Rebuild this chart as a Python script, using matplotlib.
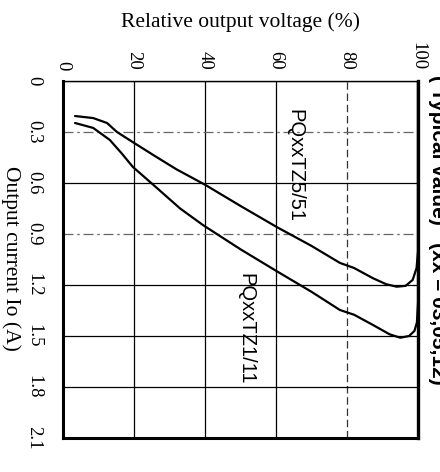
import matplotlib
matplotlib.use("Agg")
import matplotlib.pyplot as plt

# Data: relative output voltage (%) vs output current (A)
tz5_voltage = [3.4, 8.5, 12.4, 15.2, 19.7, 25.4, 32, 40, 50, 60.3, 70, 78, 82, 87.3, 91, 94, 96.5, 98.5, 99.6, 100, 100]
tz5_current = [0.206, 0.218, 0.247, 0.30, 0.36, 0.435, 0.52, 0.61, 0.735, 0.86, 0.97, 1.07, 1.10, 1.16, 1.195, 1.21, 1.205, 1.17, 1.10, 1.0, 0.0]

tz1_voltage = [3.4, 8.5, 13.2, 16.5, 19.7, 25.4, 33, 39.4, 50, 60.3, 70, 78, 82, 87.3, 92, 95, 97.5, 99, 99.7, 100, 100]
tz1_current = [0.247, 0.276, 0.347, 0.425, 0.506, 0.61, 0.75, 0.847, 0.99, 1.12, 1.24, 1.347, 1.375, 1.435, 1.49, 1.51, 1.50, 1.47, 1.42, 1.30, 0.0]

voltage_ticks = [0, 20, 40, 60, 80, 100]
current_ticks = [0, 0.3, 0.6, 0.9, 1.2, 1.5, 1.8, 2.1]
current_tick_labels = ["0", "0.3", "0.6", "0.9", "1.2", "1.5", "1.8", "2.1"]

label_tz5 = "PQxxTZ5/51"
label_tz1 = "PQxxTZ1/11"

W, H = 440, 472
fig = plt.figure(figsize=(W / 100, H / 100), dpi=100)
ax = fig.add_axes([63 / W, 1 - 438 / H, 355 / W, (438 - 81) / H])

serif = "Liberation Serif"
sans = "Liberation Sans"

ax.plot(tz5_voltage, tz5_current, color="black", lw=1.6, solid_capstyle="round")
ax.plot(tz1_voltage, tz1_current, color="black", lw=1.6, solid_capstyle="round")

ax.set_xlim(0, 100)
ax.set_ylim(2.1, 0)

ax.xaxis.tick_top()
ax.set_xticks(voltage_ticks)
ax.set_xticklabels([str(v) for v in voltage_ticks], rotation=-90, fontfamily=serif, fontsize=13.5)
ax.set_yticks(current_ticks)
ax.set_yticklabels(current_tick_labels, rotation=-90, fontfamily=serif, fontsize=13.5, va="center")
ax.tick_params(axis="x", length=0, pad=8)
ax.tick_params(axis="y", length=0, pad=15)

# grid
ax.grid(True, color="black", lw=0.9)
xg = ax.xaxis.get_gridlines()
yg = ax.yaxis.get_gridlines()
for i, v in enumerate(voltage_ticks):
    if v == 80:
        xg[i].set_linestyle((0, (6, 3)))
        xg[i].set_color("#333333")
for i, c in enumerate(current_ticks):
    if c in (0.3, 0.9):
        yg[i].set_linestyle((0, (8, 3, 2, 3)))
        yg[i].set_color("#666666")
ax.set_axisbelow(True)

for side, lw in [("left", 2.2), ("bottom", 2.2), ("right", 2.4), ("top", 1.0)]:
    ax.spines[side].set_linewidth(lw)
    ax.spines[side].set_color("black")

# curve labels
ax.text(0.654, 0.762, label_tz5, transform=ax.transAxes, rotation=-90,
        fontfamily=sans, fontsize=14.5, ha="center", va="center")
ax.text(0.515, 0.305, label_tz1, transform=ax.transAxes, rotation=-90,
        fontfamily=sans, fontsize=14.5, ha="center", va="center")

# axis titles
fig.text(240.5 / W, 1 - 22 / H, "Relative output voltage (%)", fontfamily=serif,
         fontsize=15.5, ha="center", va="center")
fig.text(11 / W, 1 - 258 / H, "Output current Io (A)", fontfamily=serif,
         fontsize=15.5, ha="center", va="center", rotation=-90)

# note at right edge (cut off by the image edge, as in the reference)
fig.text(428 / W, 1 - 75 / H, "( Typical value)   (xx = 03,05,12)", fontfamily=sans,
         fontweight="bold", fontsize=15, ha="left", va="top", rotation=-90)

fig.savefig("out.png", dpi=100)
